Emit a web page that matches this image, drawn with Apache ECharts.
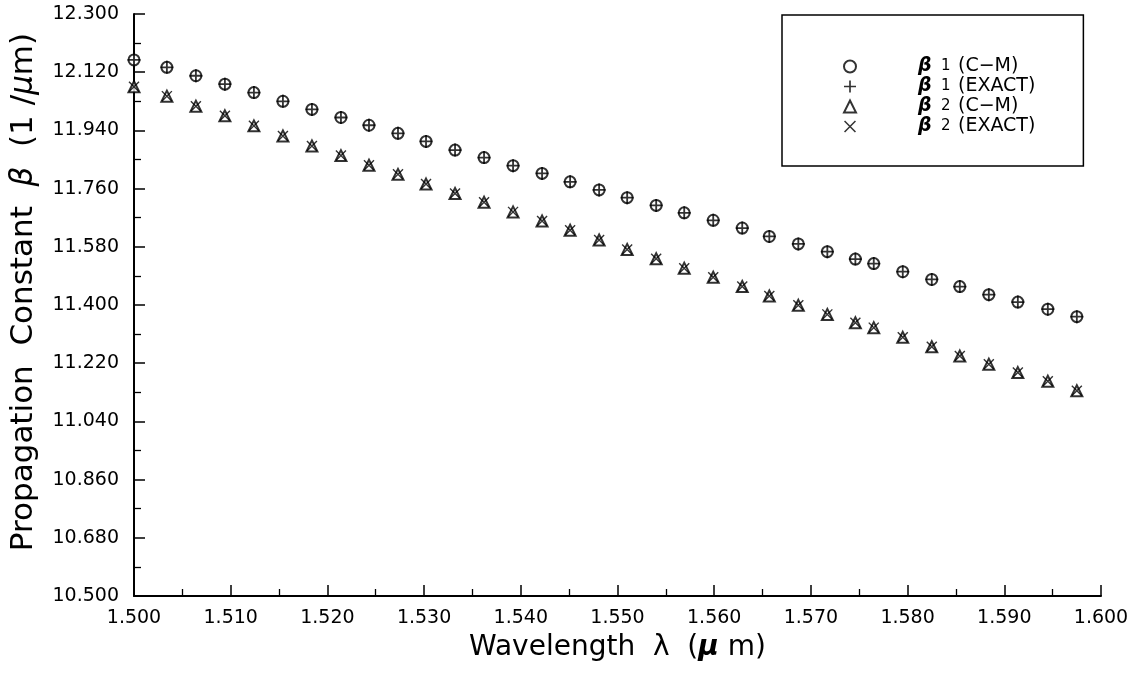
<!DOCTYPE html>
<html>
<head>
<meta charset="utf-8">
<script src="https://cdn.jsdelivr.net/npm/echarts@6/dist/echarts.min.js"></script>
<style>
html,body{margin:0;padding:0;background:#fff;}
#chart{width:1141px;height:676px;}
</style>
</head>
<body>
<div id="chart"></div>
<script>
// Wavelength (µm)
const lambda = [1.5000, 1.5034, 1.5064, 1.5094, 1.5124, 1.5154, 1.5184, 1.5214, 1.5243, 1.5273,
                1.5302, 1.5332, 1.5362, 1.5392, 1.5422, 1.5451, 1.5481, 1.5510, 1.5540, 1.5569,
                1.5599, 1.5629, 1.5657, 1.5687, 1.5717, 1.5746, 1.5765, 1.5795, 1.5825, 1.5854,
                1.5884, 1.5914, 1.5945, 1.5975];
// beta1 (C-M)
const beta1CM = [12.158, 12.135, 12.109, 12.083, 12.057, 12.030, 12.005, 11.980, 11.956, 11.931,
                 11.906, 11.879, 11.856, 11.831, 11.807, 11.781, 11.756, 11.732, 11.708, 11.685,
                 11.662, 11.638, 11.612, 11.589, 11.565, 11.542, 11.528, 11.503, 11.479, 11.457,
                 11.432, 11.409, 11.387, 11.364];
// beta1 (EXACT)
const beta1Exact = [12.158, 12.135, 12.109, 12.083, 12.057, 12.030, 12.005, 11.980, 11.956, 11.931,
                    11.906, 11.879, 11.856, 11.831, 11.807, 11.781, 11.756, 11.732, 11.708, 11.685,
                    11.662, 11.638, 11.612, 11.589, 11.565, 11.542, 11.528, 11.503, 11.479, 11.457,
                    11.432, 11.409, 11.387, 11.364];
// beta2 (C-M)
const beta2CM = [12.075, 12.046, 12.015, 11.985, 11.954, 11.923, 11.892, 11.862, 11.832, 11.804,
                 11.774, 11.745, 11.718, 11.688, 11.660, 11.631, 11.601, 11.572, 11.543, 11.514,
                 11.486, 11.457, 11.428, 11.399, 11.371, 11.345, 11.330, 11.300, 11.271, 11.242,
                 11.217, 11.191, 11.164, 11.135];
// beta2 (EXACT)
const beta2Exact = [12.075, 12.046, 12.015, 11.985, 11.954, 11.923, 11.892, 11.862, 11.832, 11.804,
                    11.774, 11.745, 11.718, 11.688, 11.660, 11.631, 11.601, 11.572, 11.543, 11.514,
                    11.486, 11.457, 11.428, 11.399, 11.371, 11.345, 11.330, 11.300, 11.271, 11.242,
                    11.217, 11.191, 11.164, 11.135];

const legendLabels = {
  b1cm: ['1', '(C\u2212M)'],
  b1ex: ['1', '(EXACT)'],
  b2cm: ['2', '(C\u2212M)'],
  b2ex: ['2', '(EXACT)']
};

const PLUS = 'path://M8.6,0 H11.4 V8.6 H20 V11.4 H11.4 V20 H8.6 V11.4 H0 V8.6 H8.6 Z';
const CROSS = 'path://M0,1.8 L1.8,0 L20,18.2 L18.2,20 Z M18.2,0 L20,1.8 L1.8,20 L0,18.2 Z';

const FONT = 'DejaVu Sans';
function pairs(ys){ return lambda.map((x,i)=>[x, ys[i]]); }

const chart = echarts.init(document.getElementById('chart'), null, {renderer:'canvas'});
const option = {
  animation: false,
  backgroundColor: '#ffffff',
  grid: {left: 132, right: 40, top: 14, bottom: 80},
  xAxis: {
    type: 'value', min: 1.5, max: 1.6, interval: 0.01,
    name: '{a|Wavelength  \u03bb  (}{m|\u03bc}{a| m)}',
    nameLocation: 'middle', nameGap: 38,
    nameTextStyle: {
      rich: {
        a: {fontFamily: FONT, fontSize: 28, color: '#000'},
        m: {fontFamily: FONT, fontSize: 28, color: '#000', fontStyle: 'italic', fontWeight: 'bold'}
      }
    },
    axisLine: {lineStyle: {color: '#000', width: 2}},
    axisTick: {inside: true, length: 11, lineStyle: {color: '#000', width: 1.5}},
    minorTick: {show: true, splitNumber: 2, length: 7, lineStyle: {color: '#000', width: 1.3}},
    splitLine: {show: false},
    axisLabel: {formatter: v => v.toFixed(3), color: '#000', fontFamily: FONT, fontSize: 19, margin: 13}
  },
  yAxis: {
    type: 'value', min: 10.5, max: 12.3, interval: 0.18,
    name: '{a|Propagation  Constant  }{b|\u03b2}{a|  (1 /}{m|\u03bc}{a|m)}',
    nameLocation: 'middle', nameGap: 95,
    nameTextStyle: {
      padding: [0, 0, 0, 26],
      rich: {
        a: {fontFamily: FONT, fontSize: 31, color: '#000'},
        b: {fontFamily: FONT, fontSize: 31, color: '#000', fontStyle: 'italic'},
        m: {fontFamily: FONT, fontSize: 31, color: '#000', fontStyle: 'italic'}
      }
    },
    axisLine: {show: true, lineStyle: {color: '#000', width: 2}},
    axisTick: {inside: true, length: 11, lineStyle: {color: '#000', width: 1.5}},
    minorTick: {show: true, splitNumber: 2, length: 7, lineStyle: {color: '#000', width: 1.3}},
    splitLine: {show: false},
    axisLabel: {formatter: v => v.toFixed(3), color: '#000', fontFamily: FONT, fontSize: 19, margin: 15}
  },
  legend: {
    left: 782, top: 15,
    orient: 'vertical',
    borderColor: '#000', borderWidth: 1.5,
    padding: [42, 48, 30, 61],
    itemWidth: 12, itemHeight: 12, itemGap: 1,
    data: [
      {name: 'b1cm', icon: 'emptyCircle'},
      {name: 'b1ex', icon: PLUS},
      {name: 'b2cm', icon: 'emptyTriangle'},
      {name: 'b2ex', icon: CROSS}
    ],
    formatter: function(name){
      const l = legendLabels[name];
      return '{sp|}{b|\u03b2}{s|' + l[0] + '}{t|' + l[1] + '}';
    },
    textStyle: {
      color: '#000', lineHeight: 19,
      rich: {
        sp: {width: 57},
        b: {fontFamily: FONT, fontSize: 19, fontWeight: 'bold', fontStyle: 'italic', color: '#000', width: 23},
        s: {fontFamily: FONT, fontSize: 15, color: '#000', width: 17},
        t: {fontFamily: FONT, fontSize: 19, color: '#000'}
      }
    }
  },
  series: [
    {name: 'b1cm', type: 'scatter', data: pairs(beta1CM), symbol: 'emptyCircle', symbolSize: 11,
     itemStyle: {color: '#000', borderColor: '#000', borderWidth: 1.4}},
    {name: 'b1ex', type: 'scatter', data: pairs(beta1Exact), symbol: PLUS, symbolSize: 13,
     itemStyle: {color: '#000'}},
    {name: 'b2cm', type: 'scatter', data: pairs(beta2CM), symbol: 'emptyTriangle', symbolSize: 11,
     itemStyle: {color: '#000', borderColor: '#000', borderWidth: 2}},
    {name: 'b2ex', type: 'scatter', data: pairs(beta2Exact), symbol: CROSS, symbolSize: 11,
     itemStyle: {color: '#000'}}
  ]
};
chart.setOption(option);
</script>
</body>
</html>
